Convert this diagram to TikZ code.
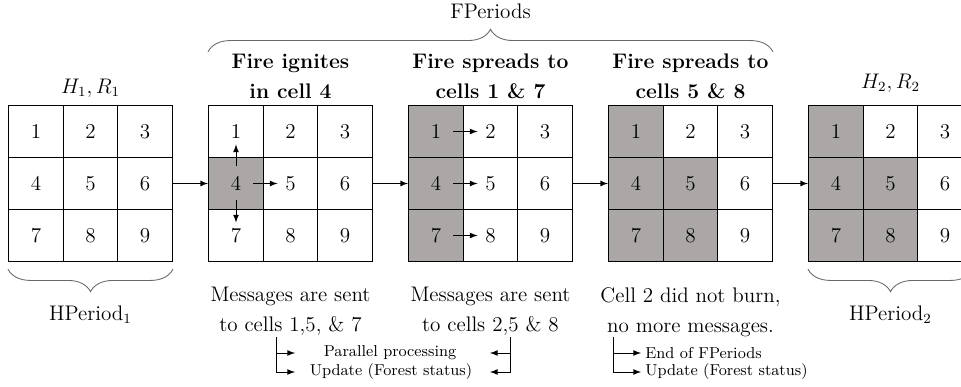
\documentclass[tikz,border=0pt]{standalone}
\usepackage{amsmath}
\usepackage{xcolor}
\usepackage{tikz}
\usetikzlibrary{arrows,positioning,matrix,decorations.pathreplacing}
\definecolor{burntgray}{RGB}{171, 167, 166}
\definecolor{bracegray}{RGB}{105, 105, 105}

\begin{document}
\begin{tikzpicture}[>=latex,
        cellbox/.style={draw, line width=0.8pt, minimum width=1.09cm, minimum height=1.04cm, inner sep=0pt, anchor=center, font=\large},
        burnt/.style={fill=burntgray},
        forest/.style={matrix of nodes, nodes={cellbox}, column sep=-0.8pt, row sep=-0.8pt, inner sep=0pt, outer sep=0pt},
        spread/.style={->, line width=0.5pt, shorten <=0.34cm, shorten >=0.26cm},
        brace/.style={decorate, decoration={brace, amplitude=0.45cm}, draw=bracegray, line width=0.5pt},
        title/.style={align=center, inner sep=0pt, font={\fontsize{12}{17}\selectfont\bfseries}},
        remark/.style={align=center, inner sep=0pt, font={\fontsize{12}{17}\selectfont}},
        note/.style={inner sep=0pt, font=\small},
        branch/.style={->, line width=0.5pt}]
        \useasboundingbox (0, 0) rectangle (19.22, 7.74);
        \clip (0, 0) rectangle (19.22, 7.74);

        % Forest grids
        \matrix (g1) [forest] at (1.81, 4.07) {
            1 & 2 & 3 \\ 4 & 5 & 6 \\ 7 & 8 & 9 \\
        };
        \matrix (g2) [forest] at (5.81, 4.07) {
            1 & 2 & 3 \\ |[burnt]| 4 & 5 & 6 \\ 7 & 8 & 9 \\
        };
        \matrix (g3) [forest] at (9.81, 4.07) {
            |[burnt]| 1 & 2 & 3 \\ |[burnt]| 4 & 5 & 6 \\ |[burnt]| 7 & 8 & 9 \\
        };
        \matrix (g4) [forest] at (13.81, 4.07) {
            |[burnt]| 1 & 2 & 3 \\ |[burnt]| 4 & |[burnt]| 5 & 6 \\ |[burnt]| 7 & |[burnt]| 8 & 9 \\
        };
        \matrix (g5) [forest] at (17.81, 4.07) {
            |[burnt]| 1 & 2 & 3 \\ |[burnt]| 4 & |[burnt]| 5 & 6 \\ |[burnt]| 7 & |[burnt]| 8 & 9 \\
        };

        % Steps between grids
        \draw[->, line width=0.5pt] (g1) -- (g2);
        \draw[->, line width=0.5pt] (g2) -- (g3);
        \draw[->, line width=0.5pt] (g3) -- (g4);
        \draw[->, line width=0.5pt] (g4) -- (g5);

        % Titles
        \node[font=\large, inner sep=0pt, above=0.14cm of g1] (h1) {$H_1, R_1$};
        \node[title, above=0.12cm of g2] (t2) {Fire ignites\\in cell 4};
        \node[title, above=0.12cm of g3] (t3) {Fire spreads to\\cells 1 \& 7};
        \node[title, above=0.12cm of g4] (t4) {Fire spreads to\\cells 5 \& 8};
        \node[font=\large, inner sep=0pt, above=0.24cm of g5] (h5) {$H_2, R_2$};

        % Fire spreading
        \draw[spread] (g2-2-1.center) -- (g2-1-1.center);
        \draw[spread] (g2-2-1.center) -- (g2-2-2.center);
        \draw[spread] (g2-2-1.center) -- (g2-3-1.center);
        \draw[spread] (g3-1-1.center) -- (g3-1-2.center);
        \draw[spread] (g3-2-1.center) -- (g3-2-2.center);
        \draw[spread] (g3-3-1.center) -- (g3-3-2.center);

        % Periods
        \draw[brace] ([yshift=1.06cm]g2.north west) -- ([yshift=1.06cm]g4.north east)
            node[midway, above=0.66cm, inner sep=0pt, font=\large, text=black] (fp) {FPeriods};
        \draw[brace] ([yshift=-0.14cm]g1.south east) -- ([yshift=-0.14cm]g1.south west)
            node[midway, below=0.72cm, inner sep=0pt, font=\large, text=black] (hp1) {HPeriod$_1$};
        \draw[brace] ([yshift=-0.14cm]g5.south east) -- ([yshift=-0.14cm]g5.south west)
            node[midway, below=0.72cm, inner sep=0pt, font=\large, text=black] (hp2) {HPeriod$_2$};

        % Messages
        \node[remark, below=0.50cm of g2] (m2) {Messages are sent\\to cells 1,5, \& 7};
        \node[remark, below=0.50cm of g3] (m3) {Messages are sent\\to cells 2,5 \& 8};
        \node[remark, below=0.50cm of g4] (m4) {Cell 2 did not burn,\\no more messages.};

        % Processing steps
        \node[note] (pp) at (7.80, 0.68) {Parallel processing};
        \node[note] (up1) at (7.82, 0.30) {Update (Forest status)};
        \node[note, anchor=west] (ef) at (12.90, 0.68) {End of FPeriods};
        \node[note, anchor=west] (up2) at (12.90, 0.30) {Update (Forest status)};
        \coordinate (b2) at (5.52, 1.00);
        \coordinate (b3) at (10.20, 1.00);
        \coordinate (b4) at (12.26, 1.00);
        \coordinate (e2) at (5.90, 0);
        \coordinate (e3) at (9.80, 0);
        \coordinate (e4) at (12.82, 0);
        \draw[branch] (b2) |- (pp -| e2);
        \draw[branch] (b2) |- (up1 -| e2);
        \draw[branch] (b3) |- (pp -| e3);
        \draw[branch] (b3) |- (up1 -| e3);
        \draw[branch] (b4) |- (ef -| e4);
        \draw[branch] (b4) |- (up2 -| e4);
\end{tikzpicture}
\end{document}
